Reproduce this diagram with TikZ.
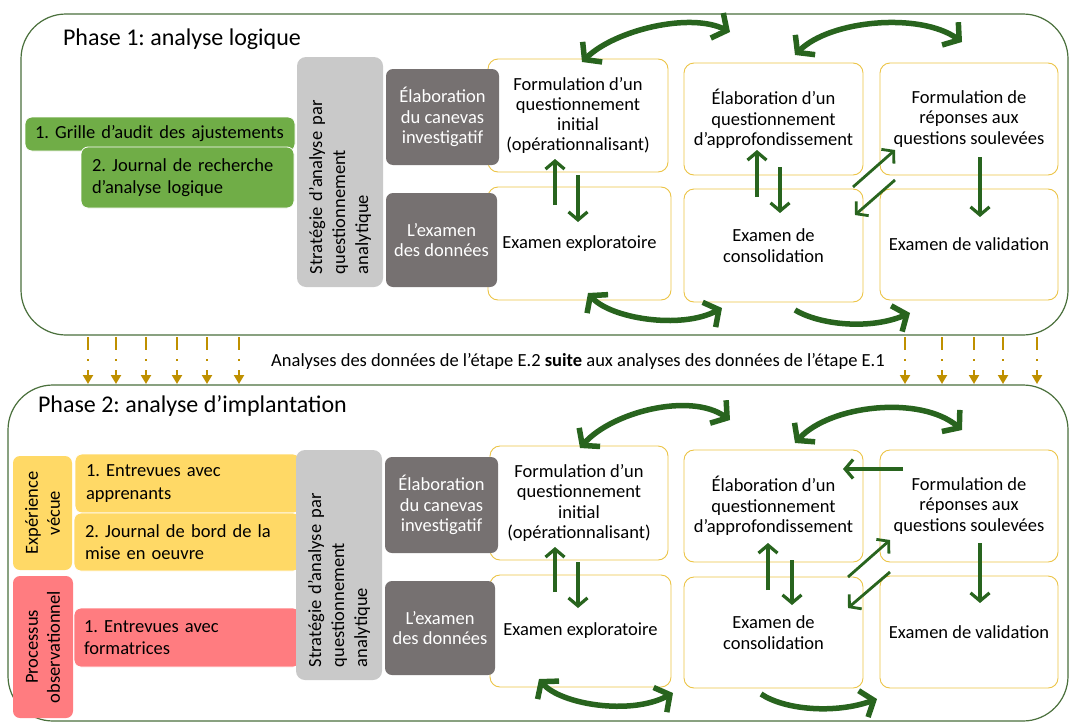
\documentclass[tikz,border=0pt]{standalone}
\usepackage{fontspec}
\setmainfont{Carlito}
\usetikzlibrary{arrows.meta}
\definecolor{phaseline}{RGB}{74,112,60}
\definecolor{boxgreen}{RGB}{112,173,71}
\definecolor{boxgrey}{RGB}{201,201,201}
\definecolor{boxdark}{RGB}{118,113,113}
\definecolor{ylline}{RGB}{236,196,70}
\definecolor{arrgreen}{RGB}{40,100,30}
\definecolor{boxyellow}{RGB}{255,217,102}
\definecolor{boxred}{RGB}{255,124,128}
\definecolor{goldc}{RGB}{191,144,0}
\frenchspacing
\begin{document}
\begin{tikzpicture}[x=1pt,y=-1pt,
  every node/.style={inner sep=0pt, outer sep=0pt},
  phasebox/.style={draw=phaseline, line width=1.2pt, rounded corners=45pt, fill=white},
  titlefont/.style={font=\fontsize{24}{28}\selectfont},
  bodyfont/.style={font=\fontsize{18.5}{20.3}\selectfont},
  leftbox/.style={font=\fontsize{18.5}{22.5}\selectfont, rounded corners=7pt, align=left, inner xsep=11pt, draw=white, line width=0.8pt},
  sidebox/.style={font=\fontsize{18.5}{22}\selectfont, rounded corners=7pt, align=center, rotate=90},
  greybox/.style={font=\fontsize{18.5}{23}\selectfont, fill=boxgrey, rounded corners=9pt, align=left, rotate=90, inner xsep=13pt},
  darkbox/.style={bodyfont, fill=boxdark, text=white, rounded corners=7pt, align=center},
  wbox/.style={bodyfont, draw=ylline, line width=0.9pt, fill=white, rounded corners=10pt, align=center},
  bigarr/.style={draw=arrgreen, line width=5.5pt},
  bigtip/.tip={Straight Barb[length=11pt,width=28pt]},
  smallarr/.style={draw=arrgreen, line width=3.2pt, -{Straight Barb[length=8pt,width=19pt]}},
  goldarr/.style={draw=goldc, line width=2pt, dash pattern=on 13pt off 9pt on 2pt off 9pt, -{Triangle[length=9pt,width=10pt]}},
  capfont/.style={font=\fontsize{18.5}{22}\selectfont}
]
\fill[white] (0,0) rectangle (1070,723);
\useasboundingbox (0,0) rectangle (1070,723);

% ---------------- Phase 1 ----------------
\node[phasebox, minimum width=1047pt, minimum height=321pt] (ph1) at (544.5,174.5) {};
\node[titlefont, anchor=base west] (t1) at (63,45) {Phase 1: analyse logique};

\node[leftbox, fill=boxgreen, text width=250pt, minimum height=34pt, inner xsep=10pt] (g1) at (160,134) {1. Grille d’audit des ajustements};
\node[leftbox, fill=boxgreen, text width=191pt, minimum height=61pt] (g2) at (187.5,177.5) {2. Journal de recherche\\d’analyse logique};

\node[greybox, minimum width=230pt, minimum height=86pt, text width=204pt] (s1) at (340,172) {Stratégie d’analyse par\\questionnement\\analytique};

\node[wbox, minimum width=180pt, minimum height=113pt] (A1) at (578,115.5) {Formulation d’un\\questionnement\\initial\\(opérationnalisant)};
\node[wbox, minimum width=183pt, minimum height=113pt] (B1) at (579.5,243.5) {Examen exploratoire};
\node[wbox, minimum width=179pt, minimum height=112pt] (C1) at (773.5,119) {Élaboration d’un\\questionnement\\d’approfondissement};
\node[wbox, minimum width=179pt, minimum height=113pt] (D1) at (773.5,245.5) {Examen de\\consolidation};
\node[wbox, minimum width=178pt, minimum height=112pt] (E1) at (969,119) {Formulation de\\réponses aux\\questions soulevées};
\node[wbox, minimum width=178pt, minimum height=111pt] (F1) at (969,244.5) {Examen de validation};

\node[darkbox, minimum width=113pt, minimum height=96pt] (k1) at (442.5,117) {Élaboration\\du canevas\\investigatif};
\node[darkbox, minimum width=111pt, minimum height=94pt] (x1) at (441.5,240) {L’examen\\des données};

% arrows phase 1
\coordinate (p1a) at (582,62);  \coordinate (p1b) at (730,32);
\coordinate (p1c) at (795,55);  \coordinate (p1d) at (962,42);
\coordinate (p1e) at (588,293); \coordinate (p1f) at (722,308);
\coordinate (p1g) at (795,310); \coordinate (p1h) at (910,313);
\draw[bigarr, bigtip-bigtip] (p1a) .. controls (615,30) and (690,12) .. (p1b);
\draw[bigarr, bigtip-bigtip] (p1c) .. controls (830,20) and (920,12) .. (p1d);
\draw[bigarr, bigtip-bigtip] (p1e) .. controls (610,318) and (680,330) .. (p1f);
\draw[bigarr, -bigtip] (p1g) .. controls (820,325) and (870,330) .. (p1h);

\coordinate (u1s) at (555,205); \coordinate (u1e) at (555,159);
\coordinate (d1s) at (578,175); \coordinate (d1e) at (578,222);
\coordinate (u2s) at (757,197); \coordinate (u2e) at (757,150);
\coordinate (d2s) at (780,167); \coordinate (d2e) at (780,213);
\coordinate (q1s) at (853,187); \coordinate (q1e) at (895,150);
\coordinate (q2s) at (895,180); \coordinate (q2e) at (855,215);
\coordinate (v1s) at (980,157); \coordinate (v1e) at (980,217);
\draw[smallarr] (u1s) -- (u1e);
\draw[smallarr] (d1s) -- (d1e);
\draw[smallarr] (u2s) -- (u2e);
\draw[smallarr] (d2s) -- (d2e);
\draw[smallarr, line width=2.8pt] (q1s) -- (q1e);
\draw[smallarr, line width=2.8pt] (q2s) -- (q2e);
\draw[smallarr] (v1s) -- (v1e);

% ---------------- between phases ----------------
\node[capfont] (cap) at (578,361) {Analyses des données de l’étape E.2 \textbf{suite} aux analyses des données de l’étape E.1};

% ---------------- Phase 2 ----------------
\node[phasebox, minimum width=1060pt, minimum height=336pt] (ph2) at (538,553) {};
\node[titlefont, anchor=base west] (t2) at (38,412) {Phase 2: analyse d’implantation};

\foreach \x [count=\i] in {88,116,146,177,207,239,905,942,974,1003,1037}{
  \coordinate (gs\i) at (\x,337);
  \coordinate (ge\i) at (\x,384);
  \draw[goldarr] (gs\i) -- (ge\i);
}

\node[sidebox, fill=boxyellow, minimum width=114pt, minimum height=59pt] (ev) at (42.5,513) {Expérience\\vécue};
\node[leftbox, fill=boxyellow, text width=203pt, minimum height=59pt, inner xsep=11pt] (y1) at (187.5,483.5) {1. Entrevues avec\\apprenants};
\node[leftbox, fill=boxyellow, text width=204pt, minimum height=58pt, inner xsep=11pt] (y2) at (187,542) {2. Journal de bord de la\\mise en oeuvre};
\node[sidebox, fill=boxred, minimum width=142pt, minimum height=60pt] (po) at (43,647) {Processus\\observationnel};
\node[leftbox, fill=boxred, text width=206pt, minimum height=59pt, inner xsep=10pt] (r1) at (187,637.5) {1. Entrevues avec\\formatrices};

\node[greybox, minimum width=230pt, minimum height=86pt, text width=204pt] (s2) at (339,565) {Stratégie d’analyse par\\questionnement\\analytique};

\node[wbox, minimum width=178pt, minimum height=114pt] (A2) at (579,503) {Formulation d’un\\questionnement\\initial\\(opérationnalisant)};
\node[wbox, minimum width=181pt, minimum height=112pt] (B2) at (580.5,631) {Examen exploratoire};
\node[wbox, minimum width=179pt, minimum height=112pt] (C2) at (773.5,506) {Élaboration d’un\\questionnement\\d’approfondissement};
\node[wbox, minimum width=179pt, minimum height=111pt] (D2) at (773.5,632.5) {Examen de\\consolidation};
\node[wbox, minimum width=178pt, minimum height=112pt] (E2) at (969,506) {Formulation de\\réponses aux\\questions soulevées};
\node[wbox, minimum width=178pt, minimum height=112pt] (F2) at (969,632) {Examen de validation};

\node[darkbox, minimum width=113pt, minimum height=96pt] (k2) at (441.5,505) {Élaboration\\du canevas\\investigatif};
\node[darkbox, minimum width=110pt, minimum height=94pt] (x2) at (440,628) {L’examen\\des données};

% arrows phase 2
\coordinate (p2a) at (580,448); \coordinate (p2b) at (730,420);
\coordinate (p2c) at (795,443); \coordinate (p2d) at (962,430);
\coordinate (p2e) at (539,679); \coordinate (p2f) at (673,693);
\coordinate (p2g) at (761,694); \coordinate (p2h) at (877,699);
\draw[bigarr, bigtip-bigtip] (p2a) .. controls (612,412) and (690,392) .. (p2b);
\draw[bigarr, bigtip-bigtip] (p2c) .. controls (830,405) and (920,395) .. (p2d);
\draw[bigarr, bigtip-bigtip] (p2e) .. controls (560,704) and (630,716) .. (p2f);
\draw[bigarr, -bigtip] (p2g) .. controls (785,710) and (835,714) .. (p2h);

\coordinate (lEs) at (903,469); \coordinate (lEe) at (843,469);
\coordinate (u3s) at (555,592); \coordinate (u3e) at (555,547);
\coordinate (d3s) at (578,562); \coordinate (d3e) at (578,608);
\coordinate (u4s) at (768,590); \coordinate (u4e) at (768,543);
\coordinate (d4s) at (792,560); \coordinate (d4e) at (792,605);
\coordinate (q3s) at (848,577); \coordinate (q3e) at (890,540);
\coordinate (q4s) at (890,572); \coordinate (q4e) at (848,608);
\coordinate (v2s) at (980,543); \coordinate (v2e) at (980,603);
\draw[smallarr] (lEs) -- (lEe);
\draw[smallarr] (u3s) -- (u3e);
\draw[smallarr] (d3s) -- (d3e);
\draw[smallarr] (u4s) -- (u4e);
\draw[smallarr] (d4s) -- (d4e);
\draw[smallarr, line width=2.8pt] (q3s) -- (q3e);
\draw[smallarr, line width=2.8pt] (q4s) -- (q4e);
\draw[smallarr] (v2s) -- (v2e);
\end{tikzpicture}
\end{document}
